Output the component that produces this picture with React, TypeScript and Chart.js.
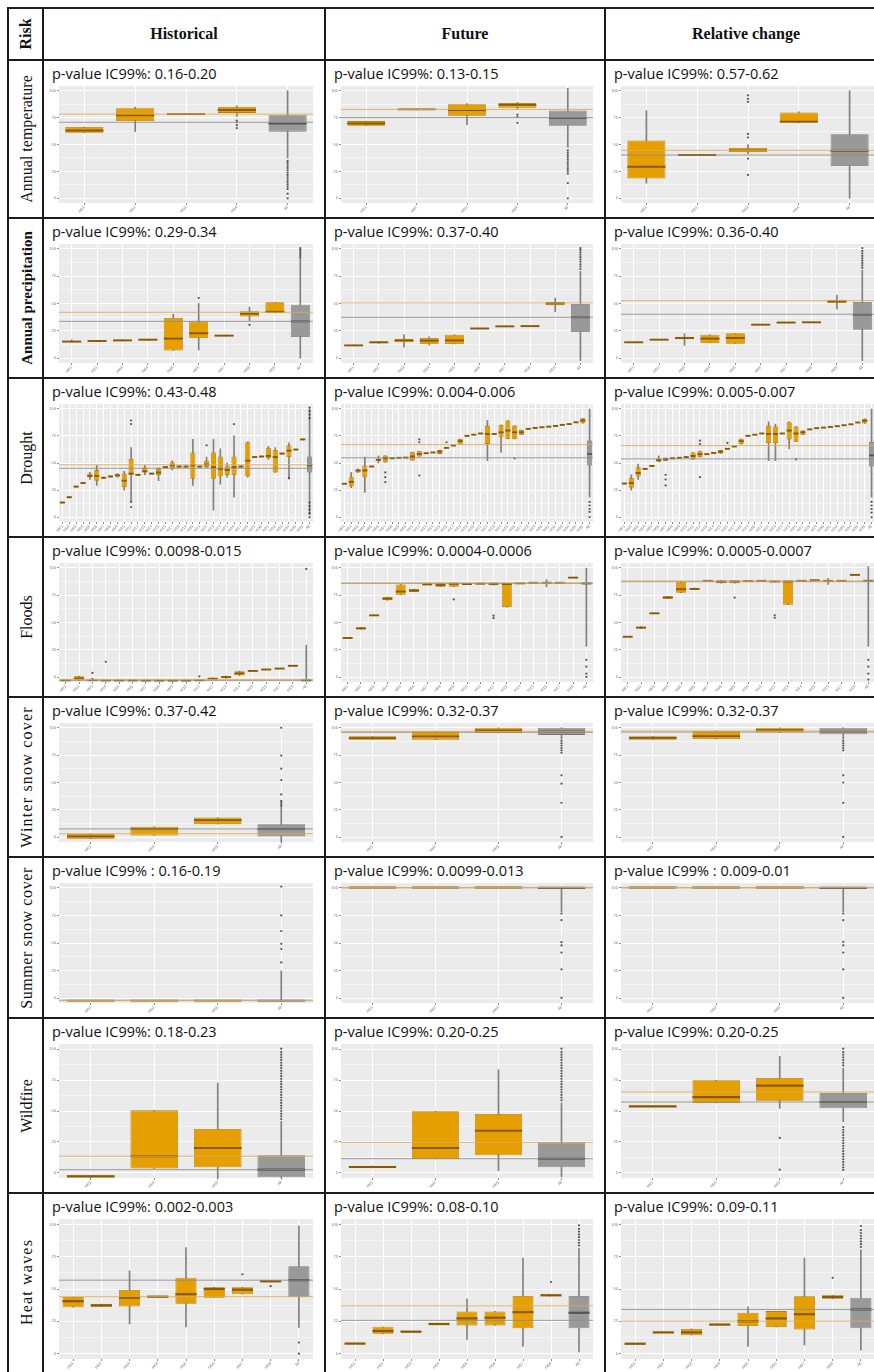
import React, { useEffect, useRef } from 'react';
import { Chart, registerables } from 'chart.js';

Chart.register(...registerables);

type Box = [number, number, number, number, number]; // [lower whisker, q1, median, q3, upper whisker]
type Outlier = [number, number]; // [category index, value]

// ---------- labels ----------
const RISKS = ['Annual temperature', 'Annual precipitation', 'Drought', 'Floods', 'Winter snow cover', 'Summer snow cover', 'Wildfire', 'Heat waves'];
const PERIODS = ['Historical', 'Future', 'Relative change'];
const MODEL_CODES = ['m01', 'm02', 'm03', 'm04', 'm05', 'm06', 'm07', 'm08', 'm09', 'm10', 'm11', 'm12', 'm13', 'm14', 'm15', 'm16', 'm17', 'm18', 'm19', 'm20', 'm21', 'm22', 'm23', 'm24', 'm25', 'm26', 'm27', 'm28', 'm29', 'm30', 'm31', 'm32', 'm33', 'm34', 'm35', 'm36'];
const ALL_LABEL = 'All';
const Y_MAJOR = [4, 27, 50, 73, 96];
const Y_MINOR = [15.5, 38.5, 61.5, 84.5];
const Y_TICK_LABELS = ['0', '25', '50', '75', '100'];

// ---------- Annual temperature ----------
const tempHistP = 'p-value IC99%: 0.16-0.20';
const tempHistBoxes: Box[] = [[60, 60, 62, 65, 65], [61, 70, 75, 81, 82], [75.5, 75.5, 76, 76.5, 76.5], [74, 77, 79.5, 82, 83], [38.5, 61, 68, 75.5, 96]];
const tempHistOutliers: Outlier[] = [[3, 70.5], [3, 69], [3, 66.5], [3, 64], [4, 36], [4, 34], [4, 32], [4, 30], [4, 28], [4, 26], [4, 24], [4, 22], [4, 20], [4, 18], [4, 16], [4, 14], [4, 12], [4, 8], [4, 4]];
const tempHistRefs = [76, 69];

const tempFutP = 'p-value IC99%: 0.13-0.15';
const tempFutBoxes: Box[] = [[66, 66, 68, 70, 70], [79.5, 79.5, 80, 80.5, 80.5], [67, 74.5, 79.5, 84.5, 85], [80, 81.5, 84, 85.5, 86], [47.5, 66, 72.5, 79, 98]];
const tempFutOutliers: Outlier[] = [[3, 75.5], [3, 73.5], [3, 68.5], [4, 45], [4, 43], [4, 41], [4, 39], [4, 37], [4, 35], [4, 33], [4, 31], [4, 29], [4, 27], [4, 25], [4, 17], [4, 4]];
const tempFutRefs = [80, 73];

const tempRelP = 'p-value IC99%: 0.57-0.62';
const tempRelBoxes: Box[] = [[17, 21, 31, 53.5, 79], [40.5, 40.5, 41, 41.5, 41.5], [42, 43.3, 45, 47, 50], [68.5, 68.5, 69.5, 77.4, 78], [4, 31.6, 44.7, 58.7, 96]];
const tempRelOutliers: Outlier[] = [[2, 92], [2, 89], [2, 86.5], [2, 59], [2, 56], [2, 38], [2, 24]];
const tempRelRefs = [45, 41];

// ---------- Annual precipitation ----------
const precHistP = 'p-value IC99%: 0.29-0.34';
const precHistBoxes: Box[] = [[17.5, 17.5, 18, 18.5, 19.5], [18, 18, 18.5, 19, 19], [18.5, 18.5, 19, 19.5, 19.5], [19, 19, 19.6, 20, 20.2], [10.4, 10.4, 20.5, 37.8, 41], [11, 21, 25, 35, 50], [22.5, 22.5, 23, 23.5, 23.5], [35.6, 39, 41.5, 43.4, 47], [42, 42, 43, 51, 51], [4, 21.8, 35, 49, 88]];
const precHistOutliers: Outlier[] = [[5, 54.6], [7, 32], [9, 89], [9, 90.5], [9, 92], [9, 93.5], [9, 95], [9, 96.5]];
const precHistRefs = [42.6, 35];

const precFutP = 'p-value IC99%: 0.37-0.40';
const precFutBoxes: Box[] = [[14.8, 14.8, 14.8, 15, 15], [16.5, 16.5, 17.4, 18, 18], [13.4, 17.4, 19, 20.4, 23.8], [15, 16, 18.8, 21, 22], [16, 16, 19, 23.8, 23.8], [29, 29, 29, 29.3, 29.3], [30.5, 30.5, 30.8, 31, 31], [31, 31, 31, 31.3, 31.3], [43, 48.5, 50, 51.3, 54.6], [2, 26, 38.4, 49.6, 77]];
const precFutOutliers: Outlier[] = [[9, 79], [9, 81], [9, 83], [9, 85], [9, 87], [9, 89], [9, 91], [9, 93], [9, 95], [9, 96.6]];
const precFutRefs = [50.4, 38.4];

const precRelP = 'p-value IC99%: 0.36-0.40';
const precRelBoxes: Box[] = [[17.4, 17.4, 17.4, 17.6, 17.6], [19.4, 19.4, 19.6, 19.8, 19.8], [14.8, 20, 21, 22, 24.6], [16.8, 16.8, 20.5, 23.8, 23.8], [16.2, 16.2, 21, 25, 25], [32, 32, 32.2, 32.4, 32.4], [33.8, 33.8, 34, 34.2, 34.2], [34, 34, 34.2, 34.4, 34.4], [45.4, 50.4, 51.8, 53.2, 57], [2, 28, 40.6, 51.3, 78]];
const precRelOutliers: Outlier[] = [[9, 80], [9, 82], [9, 84], [9, 86], [9, 88], [9, 90], [9, 92], [9, 94], [9, 96.6]];
const precRelRefs = [52.4, 41];

// ---------- Drought ----------
const drouHistP = 'p-value IC99%: 0.43-0.48';
const drouHistBoxes: Box[] = [
  [16, 16, 16.5, 17, 17], [20.5, 20.5, 21, 21.5, 21.5], [29.5, 29.5, 30, 30.5, 30.5], [32.5, 32.5, 33, 33.5, 33.5],
  [36, 38, 39, 41, 42], [31, 35, 39, 44, 48], [37, 37, 37.5, 38, 38], [38, 38, 38.6, 39, 39],
  [38, 38.5, 39.5, 40.5, 41], [27, 29.6, 35, 41, 43], [18, 40, 41, 53.5, 63], [39.5, 39.5, 40, 40.5, 40.5],
  [40, 42, 43, 46.5, 48], [40.5, 40.5, 41, 41.5, 41.5], [35, 39.7, 42, 45, 46], [46, 46, 46.5, 47, 47],
  [44, 45.6, 48, 50.7, 52], [46.5, 46.5, 47, 47.5, 47.5], [46.5, 46.5, 47, 47.5, 47.5], [31, 36.6, 48, 59, 70],
  [46.5, 46.5, 47, 47.5, 47.5], [46, 46.5, 48.7, 52, 55], [10, 36.6, 46.5, 59, 70], [32, 38.6, 45, 55.5, 62],
  [38, 39.7, 44, 47.7, 50], [21, 39.7, 46.5, 55.5, 73], [46.5, 46.5, 47, 47.5, 47.5], [38, 38.6, 52, 67.6, 68],
  [54.5, 54.5, 55, 55.5, 55.5], [55, 55, 55.5, 56, 56], [53, 54, 56, 63, 64], [42, 42, 55, 61, 63],
  [57.5, 57.5, 58, 58.5, 58.5], [37, 55, 60.5, 65, 67], [61, 61, 61.4, 61.8, 61.8], [69.5, 69.5, 70, 70.5, 70.5],
  [6, 42, 48, 55.5, 96],
];
const drouHistOutliers: Outlier[] = [[10, 86], [10, 83], [10, 17], [10, 12.7], [21, 65], [25, 83], [33, 37], [36, 97], [36, 94], [36, 91], [36, 88], [36, 4], [36, 7.5], [36, 10.5], [36, 13.5], [36, 16.5]];
const drouHistRefs = [48.5, 45.5];

const drouFutP = 'p-value IC99%: 0.004-0.006';
const drouFutBoxes: Box[] = [
  [32.4, 32.4, 32.4, 32.8, 32.8], [29, 30, 34, 38.6, 42], [42, 42, 43.7, 44, 45], [25, 38, 43.7, 47.9, 55],
  [47, 47, 47, 47.5, 47.5], [50, 52, 52.7, 53, 56], [50.7, 50.7, 54, 56.3, 56.3], [54, 54, 54, 54.3, 54.3],
  [54.4, 54.4, 54.4, 54.6, 54.6], [54.6, 54.6, 54.6, 54.8, 54.8], [52.1, 52.1, 55.5, 59.2, 59.2], [55.5, 55.5, 57.7, 60, 60],
  [58.3, 58.3, 58.3, 58.5, 58.5], [58.9, 58.9, 58.9, 59.1, 59.1], [57.7, 57.7, 59.7, 61, 61], [62.8, 62.8, 62.8, 63, 63],
  [64.8, 64.8, 64.8, 65, 65], [65.6, 65.6, 68.5, 70.4, 70.4], [73, 73, 73, 73.2, 73.2], [74, 74, 74, 74.2, 74.2],
  [75, 75, 75, 75.2, 75.2], [52, 66.2, 74.6, 81.7, 86], [74.6, 74.6, 74.6, 74.8, 74.8], [59, 71.8, 76, 82.3, 82.3],
  [70.4, 70.4, 77.5, 86, 86], [70.4, 70.4, 76, 81.7, 81.7], [74, 74, 76, 78, 78], [78.9, 78.9, 78.9, 79.1, 79.1],
  [79.7, 79.7, 79.7, 79.9, 79.9], [80.3, 80.3, 80.3, 80.5, 80.5], [80.8, 80.8, 80.8, 81, 81], [81.4, 81.4, 81.4, 81.6, 81.6],
  [82.3, 82.3, 82.3, 82.5, 82.5], [83, 83, 83, 83.2, 83.2], [84.5, 84.5, 84.5, 84.7, 84.7], [83.7, 83.7, 86, 87.9, 87.9],
  [21, 47.9, 57.7, 69, 95.8],
];
const drouFutOutliers: Outlier[] = [[6, 42], [6, 38], [6, 33.8], [11, 70], [11, 67.6], [11, 39.4], [15, 67.6], [25, 54], [36, 17], [36, 14], [36, 11], [36, 8.5], [36, 4.2]];
const drouFutRefs = [65.6, 54.4];

const drouRelP = 'p-value IC99%: 0.005-0.007';
const drouRelBoxes: Box[] = [
  [32.4, 32.4, 32.6, 33, 33], [27, 29, 33, 37.5, 40], [36, 38.6, 41.5, 46.5, 49], [44.5, 44.5, 45, 45.3, 45.3],
  [47, 47, 47.5, 48, 48], [51, 51, 52.5, 53.5, 56], [52, 52, 53, 54.5, 54.5], [54, 54, 54, 54.3, 54.3],
  [54.4, 54.4, 54.4, 54.6, 54.6], [55, 55, 55, 55.2, 55.2], [53, 53, 56, 59, 59], [55, 55, 57.5, 60, 60],
  [57.5, 57.5, 57.5, 57.7, 57.7], [58.5, 58.5, 58.5, 58.7, 58.7], [58, 58, 59.5, 61, 61], [62, 62, 62, 62.2, 62.2],
  [64, 64, 64, 64.2, 64.2], [66, 66, 68.5, 70.5, 70.5], [73, 73, 73, 73.2, 73.2], [74, 74, 74, 74.2, 74.2],
  [75, 75, 75, 75.2, 75.2], [52, 67, 74.6, 81.7, 85], [52, 67, 74.6, 81, 83], [75, 75, 75, 75.2, 75.2],
  [62, 70, 77.5, 84.5, 85], [68, 68, 75, 81, 81], [74, 74, 76, 77.5, 77.5], [78.5, 78.5, 78.5, 78.7, 78.7],
  [79.5, 79.5, 79.5, 79.7, 79.7], [80, 80, 80, 80.2, 80.2], [80.6, 80.6, 80.6, 80.8, 80.8], [81.2, 81.2, 81.2, 81.4, 81.4],
  [82, 82, 82, 82.2, 82.2], [82.8, 82.8, 82.8, 83, 83], [84.3, 84.3, 84.3, 84.5, 84.5], [83.5, 83.5, 85.8, 87.6, 87.6],
  [21, 47, 56.5, 68, 95.8],
];
const drouRelOutliers: Outlier[] = [[6, 40], [6, 36], [6, 31], [11, 69], [11, 66], [11, 38], [15, 67], [25, 53], [36, 17], [36, 14], [36, 11], [36, 8], [36, 4]];
const drouRelRefs = [64.8, 53.5];

// ---------- Floods ----------
const floHistP = 'p-value IC99%: 0.0098-0.015';
const floHistBoxes: Box[] = [
  [1.4, 1.4, 1.4, 1.6, 1.6], [1.2, 1.4, 3, 4.8, 5], [1.5, 1.5, 1.5, 1.7, 1.7], [1.3, 1.3, 1.3, 1.5, 1.5],
  [1.3, 1.3, 1.3, 1.5, 1.5], [1.3, 1.3, 1.3, 1.5, 1.5], [1.2, 1.2, 1.2, 1.4, 1.4], [1.2, 1.2, 1.2, 1.4, 1.4],
  [1.2, 1.2, 1.2, 1.4, 1.4], [1.2, 1.2, 1.2, 1.4, 1.4], [1.4, 1.4, 1.5, 1.7, 1.7], [1.6, 2, 2.8, 3.4, 3.5],
  [3, 4, 4.2, 4.5, 5], [5.2, 5.7, 7.2, 9, 9.3], [9.2, 9.2, 9.3, 9.5, 9.5], [10.4, 10.4, 10.5, 10.7, 10.7],
  [11.2, 11.2, 11.3, 11.5, 11.5], [13.5, 13.5, 13.6, 13.8, 13.8], [1.2, 1.2, 1.4, 2.5, 31],
];
const floHistOutliers: Outlier[] = [[2, 7.6], [2, 2.6], [3, 17], [10, 4.8], [18, 95]];
const floHistRefs = [2.2, 1.4];

const floFutP = 'p-value IC99%: 0.0004-0.0006';
const floFutBoxes: Box[] = [
  [37, 37, 37, 37.3, 37.3], [44.5, 44.5, 45, 46, 46], [56, 56, 56, 56.3, 56.3], [68.6, 68.6, 70, 71.4, 71.4],
  [73.4, 73.4, 76, 82, 82], [75.7, 75.7, 77, 78, 78], [82, 82, 82, 82.3, 82.3], [80, 80, 81.5, 83, 83],
  [80, 80, 82.5, 83.4, 83.4], [82.3, 82.3, 82.3, 82.5, 82.5], [82.6, 82.6, 82.6, 82.8, 82.8], [81.4, 81.4, 82.5, 83.4, 83.4],
  [62.9, 62.9, 82.3, 82.9, 82.9], [82.9, 82.9, 82.9, 83.1, 83.1], [83.4, 83.4, 83.4, 83.6, 83.6], [80, 83, 83.4, 84, 86],
  [83.4, 83.4, 83.4, 83.6, 83.6], [87.7, 87.7, 87.7, 87.9, 87.9], [30, 82, 82.9, 84.3, 95.7],
];
const floFutOutliers: Outlier[] = [[8, 69.4], [11, 55.7], [11, 53.7], [18, 18.6], [18, 12.9], [18, 7], [18, 4.3]];
const floFutRefs = [83.4, 82.9];

const floRelP = 'p-value IC99%: 0.0005-0.0007';
const floRelBoxes: Box[] = [
  [38, 38, 38, 38.3, 38.3], [45, 45, 45.7, 46.5, 46.5], [57.7, 57.7, 57.7, 58, 58], [70, 70, 71, 72, 72],
  [74.9, 74.9, 78, 84.3, 84.3], [77.5, 77.5, 78.2, 79, 79], [85, 85, 85, 85.2, 85.2], [83, 83, 84.3, 85.5, 85.5],
  [83, 83, 84.5, 85.2, 85.2], [84.8, 84.8, 84.8, 85, 85], [85, 85, 85, 85.2, 85.2], [84, 84, 84.5, 85, 85],
  [65, 65, 84.5, 85, 85], [85, 85, 85, 85.2, 85.2], [85.5, 85.5, 85.5, 85.7, 85.7], [82, 84.5, 85, 85.7, 87],
  [85, 85, 85, 85.2, 85.2], [90, 90, 90, 90.2, 90.2], [30, 84.3, 85, 86, 97],
];
const floRelOutliers: Outlier[] = [[8, 70.9], [11, 56], [11, 54], [18, 18.6], [18, 12.9], [18, 7], [18, 2]];
const floRelRefs = [84.9, 84.3];

// ---------- Winter snow cover ----------
const winHistP = 'p-value IC99%: 0.37-0.42';
const winHistBoxes: Box[] = [[2.7, 2.7, 4.7, 6.8, 6.8], [5.5, 5.5, 11, 12.9, 12.9], [15, 15, 18.4, 20.5, 20.5], [0, 4.7, 11, 15, 28.8]];
const winHistOutliers: Outlier[] = [[3, 30], [3, 31.5], [3, 33], [3, 34.5], [3, 40], [3, 52], [3, 61.6], [3, 72.6], [3, 96]];
const winHistRefs = [7, 11];

const winFutP = 'p-value IC99%: 0.32-0.37';
const winFutBoxes: Box[] = [[86, 86, 87.3, 88.8, 88.8], [86, 86, 88.8, 93, 93], [91.6, 91.6, 93.7, 96, 96], [86.5, 90, 92.8, 96, 96]];
const winFutOutliers: Outlier[] = [[3, 85], [3, 83], [3, 81], [3, 79], [3, 77], [3, 75], [3, 56], [3, 49], [3, 33], [3, 4.3]];
const winFutRefs = [93, 92.2];

const winRelP = 'p-value IC99%: 0.32-0.37';
const winRelBoxes: Box[] = [[86, 86, 87.6, 88.6, 88.6], [86.5, 86.5, 89, 93.5, 93.5], [92, 92, 94, 96, 96], [86.5, 90.5, 93, 96, 96]];
const winRelOutliers: Outlier[] = [[3, 85], [3, 83], [3, 81], [3, 79], [3, 77], [3, 56], [3, 50], [3, 33], [3, 4.3]];
const winRelRefs = [93.3, 92.4];

// ---------- Summer snow cover ----------
const sumHistP = 'p-value IC99% : 0.16-0.19';
const sumHistBoxes: Box[] = [[1.8, 1.8, 2, 2.2, 2.2], [1.8, 1.8, 2, 2.2, 2.2], [1.8, 1.8, 2, 2.2, 2.2], [1.4, 1.4, 2, 2.5, 26.8]];
const sumHistOutliers: Outlier[] = [[3, 33.8], [3, 45], [3, 49.3], [3, 60], [3, 73], [3, 97]];
const sumHistRefs = [2, 2.3];

const sumFutP = 'p-value IC99%: 0.0099-0.013';
const sumFutBoxes: Box[] = [[96, 96, 96.3, 96.5, 96.5], [96, 96, 96.3, 96.5, 96.5], [96, 96, 96.3, 96.5, 96.5], [76, 95, 96, 96.6, 96.6]];
const sumFutOutliers: Outlier[] = [[3, 74.6], [3, 69], [3, 50.7], [3, 48], [3, 42], [3, 28], [3, 4.2]];
const sumFutRefs = [96.3, 96];

const sumRelP = 'p-value IC99% : 0.009-0.01';
const sumRelBoxes: Box[] = [[96, 96, 96.3, 96.5, 96.5], [96, 96, 96.3, 96.5, 96.5], [96, 96, 96.3, 96.5, 96.5], [76, 95, 96, 96.6, 96.6]];
const sumRelOutliers: Outlier[] = [[3, 74.6], [3, 69], [3, 51], [3, 48], [3, 42], [3, 28], [3, 4.2]];
const sumRelRefs = [96.3, 96];

// ---------- Wildfire ----------
const wilHistP = 'p-value IC99%: 0.18-0.23';
const wilHistBoxes: Box[] = [[0.5, 0.5, 1.2, 2, 2], [7, 7, 16.2, 50.5, 50.5], [0, 8, 22.4, 36.6, 70.9], [0, 0.5, 6.2, 17, 42.3]];
const wilHistOutliers: Outlier[] = [[3, 44], [3, 46], [3, 48], [3, 50], [3, 52], [3, 54], [3, 56], [3, 58], [3, 60], [3, 62], [3, 64], [3, 66], [3, 68], [3, 70], [3, 72], [3, 74], [3, 76], [3, 78], [3, 80], [3, 82], [3, 84], [3, 86], [3, 88], [3, 90], [3, 92], [3, 94], [3, 96.5]];
const wilHistRefs = [16.2, 6.2];

const wilFutP = 'p-value IC99%: 0.20-0.25';
const wilFutBoxes: Box[] = [[7.5, 7.5, 8.2, 9, 9], [14.2, 14.2, 22.4, 49.8, 49.8], [5.5, 17, 35.3, 47.8, 80.8], [1, 8, 14.4, 26.6, 56]];
const wilFutOutliers: Outlier[] = [[3, 58], [3, 60], [3, 62], [3, 64], [3, 66], [3, 68], [3, 70], [3, 72], [3, 74], [3, 76], [3, 78], [3, 80], [3, 82], [3, 84], [3, 86], [3, 88], [3, 90], [3, 92], [3, 94], [3, 96.5]];
const wilFutRefs = [26.6, 14.4];

const wilRelP = 'p-value IC99%: 0.20-0.25';
const wilRelBoxes: Box[] = [[53, 53, 53.5, 54, 54], [56, 56, 60.4, 72.9, 72.9], [52, 57.7, 68.9, 74.6, 90.8], [42, 52, 56.7, 63.4, 82]];
const wilRelOutliers: Outlier[] = [[2, 29.9], [2, 6.2], [3, 84], [3, 86], [3, 88], [3, 90], [3, 92], [3, 94], [3, 96.5], [3, 38], [3, 36], [3, 34], [3, 32], [3, 30], [3, 28], [3, 26], [3, 24], [3, 22], [3, 20], [3, 18], [3, 16], [3, 14], [3, 12], [3, 10], [3, 8], [3, 6]];
const wilRelRefs = [64.2, 56.7];

// ---------- Heat waves ----------
const heaHistP = 'p-value IC99%: 0.002-0.003';
const heaHistBoxes: Box[] = [[37, 37, 41.3, 44.3, 44.3], [37.3, 37.3, 38.3, 39.3, 39.3], [25, 37.5, 43.8, 49.3, 63], [44, 44, 44.5, 45, 45], [23, 39.5, 46.3, 58, 79.5], [43.8, 43.8, 50, 51.3, 51.3], [46.3, 46.3, 49.5, 51.3, 51.3], [55.5, 55.5, 55.5, 55.8, 55.8], [22.5, 44.3, 56.3, 66.3, 95]];
const heaHistOutliers: Outlier[] = [[6, 60.5], [7, 52], [8, 11.8], [8, 3.8]];
const heaHistRefs = [44.5, 56.3];

const heaFutP = 'p-value IC99%: 0.08-0.10';
const heaFutBoxes: Box[] = [[11, 11, 11, 11.3, 11.3], [18, 18, 20, 23, 23], [19.5, 19.5, 19.5, 19.8, 19.8], [25, 25, 25, 25.3, 25.3], [14, 24, 29, 34, 43], [24, 24, 29.5, 34, 34], [9, 22, 33.5, 45, 72], [45, 45, 45.5, 46, 46], [5, 22, 33, 45, 79]];
const heaFutOutliers: Outlier[] = [[7, 55], [8, 81], [8, 83], [8, 85], [8, 87], [8, 89], [8, 91], [8, 93], [8, 95.5]];
const heaFutRefs = [38, 27.6];

const heaRelP = 'p-value IC99%: 0.09-0.11';
const heaRelBoxes: Box[] = [[10.9, 10.9, 10.9, 11.2, 11.2], [19, 19, 19, 19.3, 19.3], [17, 17, 19, 21.5, 21.5], [24.6, 24.6, 24.6, 24.9, 24.9], [8.9, 23.5, 27, 33, 37.2], [22.8, 22.8, 29, 34.2, 34.2], [10, 21, 32, 44.8, 72], [43, 43, 44.3, 45.5, 45.5], [6.3, 22, 35.4, 43.8, 78]];
const heaRelOutliers: Outlier[] = [[7, 58], [8, 80], [8, 82], [8, 84], [8, 86], [8, 88], [8, 90], [8, 92], [8, 95]];
const heaRelRefs = [27, 35.4];

// ---------- styles ----------
const PANEL_BG = '#EBEBEB';
const ORANGE_FILL = '#E69F00';
const ORANGE_EDGE = '#B98000';
const ORANGE_MED = '#8A5A00';
const GREY_FILL = '#999999';
const GREY_EDGE = '#7A7A7A';
const GREY_MED = '#555555';
const WHISKER = '#808080';
const OUTLIER = 'rgba(55,55,55,0.85)';
const REF_ORANGE = 'rgba(222,172,88,0.85)';
const REF_GREY = 'rgba(140,140,140,0.85)';
const MED_HALF = 0.8;
const SERIF = '"Liberation Serif", "Times New Roman", serif';
const SANS = '"Open Sans", "Noto Sans", sans-serif';

const COL_X = [8, 43, 325, 605, 887];
const ROW_Y = [8, 60, 218, 378, 537, 697, 857, 1018, 1193, 1374];

type Spec = { p: string; boxes: Box[]; outliers: Outlier[]; refs: number[] };

const GRID: Spec[][] = [
  [{ p: tempHistP, boxes: tempHistBoxes, outliers: tempHistOutliers, refs: tempHistRefs }, { p: tempFutP, boxes: tempFutBoxes, outliers: tempFutOutliers, refs: tempFutRefs }, { p: tempRelP, boxes: tempRelBoxes, outliers: tempRelOutliers, refs: tempRelRefs }],
  [{ p: precHistP, boxes: precHistBoxes, outliers: precHistOutliers, refs: precHistRefs }, { p: precFutP, boxes: precFutBoxes, outliers: precFutOutliers, refs: precFutRefs }, { p: precRelP, boxes: precRelBoxes, outliers: precRelOutliers, refs: precRelRefs }],
  [{ p: drouHistP, boxes: drouHistBoxes, outliers: drouHistOutliers, refs: drouHistRefs }, { p: drouFutP, boxes: drouFutBoxes, outliers: drouFutOutliers, refs: drouFutRefs }, { p: drouRelP, boxes: drouRelBoxes, outliers: drouRelOutliers, refs: drouRelRefs }],
  [{ p: floHistP, boxes: floHistBoxes, outliers: floHistOutliers, refs: floHistRefs }, { p: floFutP, boxes: floFutBoxes, outliers: floFutOutliers, refs: floFutRefs }, { p: floRelP, boxes: floRelBoxes, outliers: floRelOutliers, refs: floRelRefs }],
  [{ p: winHistP, boxes: winHistBoxes, outliers: winHistOutliers, refs: winHistRefs }, { p: winFutP, boxes: winFutBoxes, outliers: winFutOutliers, refs: winFutRefs }, { p: winRelP, boxes: winRelBoxes, outliers: winRelOutliers, refs: winRelRefs }],
  [{ p: sumHistP, boxes: sumHistBoxes, outliers: sumHistOutliers, refs: sumHistRefs }, { p: sumFutP, boxes: sumFutBoxes, outliers: sumFutOutliers, refs: sumFutRefs }, { p: sumRelP, boxes: sumRelBoxes, outliers: sumRelOutliers, refs: sumRelRefs }],
  [{ p: wilHistP, boxes: wilHistBoxes, outliers: wilHistOutliers, refs: wilHistRefs }, { p: wilFutP, boxes: wilFutBoxes, outliers: wilFutOutliers, refs: wilFutRefs }, { p: wilRelP, boxes: wilRelBoxes, outliers: wilRelOutliers, refs: wilRelRefs }],
  [{ p: heaHistP, boxes: heaHistBoxes, outliers: heaHistOutliers, refs: heaHistRefs }, { p: heaFutP, boxes: heaFutBoxes, outliers: heaFutOutliers, refs: heaFutRefs }, { p: heaRelP, boxes: heaRelBoxes, outliers: heaRelOutliers, refs: heaRelRefs }],
];

const panelBackground = {
  id: 'panelBackground',
  beforeDraw(chart: any) {
    const { ctx, chartArea: a } = chart;
    if (!a) return;
    ctx.save();
    ctx.fillStyle = PANEL_BG;
    ctx.fillRect(a.left, a.top, a.right - a.left, a.bottom - a.top);
    ctx.restore();
  },
};

function buildConfig(spec: Spec): any {
  const { boxes, outliers, refs } = spec;
  const n = boxes.length;
  const labels = boxes.map((_, i) => (i === n - 1 ? ALL_LABEL : MODEL_CODES[i]));
  const isAll = (i: number) => i === n - 1;
  const fills = boxes.map((_, i) => (isAll(i) ? GREY_FILL : ORANGE_FILL));
  const edges = boxes.map((_, i) => (isAll(i) ? GREY_EDGE : ORANGE_EDGE));
  const meds = boxes.map((_, i) => (isAll(i) ? GREY_MED : ORANGE_MED));
  const refLine = (v: number, color: string, label: string) => ({
    type: 'line',
    label,
    xAxisID: 'xr',
    data: [{ x: 0, y: v }, { x: 1, y: v }],
    borderColor: color,
    borderWidth: 1,
    pointRadius: 0,
    order: 0,
  });
  return {
    type: 'bar',
    data: {
      labels,
      datasets: [
        refLine(refs[0], REF_ORANGE, 'mean (models)'),
        refLine(refs[1], REF_GREY, 'mean (all)'),
        {
          type: 'line',
          label: 'outliers',
          data: outliers.map(([c, v]) => ({ x: labels[c], y: v })),
          showLine: false,
          pointRadius: 1.1,
          pointBackgroundColor: OUTLIER,
          pointBorderWidth: 0,
          order: 1,
        },
        {
          type: 'bar',
          label: 'median',
          data: boxes.map((b) => [b[2] - MED_HALF, b[2] + MED_HALF]),
          backgroundColor: meds,
          grouped: false,
          barPercentage: 0.75,
          categoryPercentage: 1,
          order: 2,
        },
        {
          type: 'bar',
          label: 'box',
          data: boxes.map((b) => [b[1], b[3]]),
          backgroundColor: fills,
          borderColor: edges,
          borderWidth: 0.8,
          borderSkipped: false,
          grouped: false,
          barPercentage: 0.75,
          categoryPercentage: 1,
          order: 3,
        },
        {
          type: 'bar',
          label: 'whisker',
          data: boxes.map((b) => [b[0], b[4]]),
          backgroundColor: WHISKER,
          barThickness: 1,
          grouped: false,
          order: 4,
        },
      ],
    },
    options: {
      responsive: false,
      animation: false,
      events: [],
      layout: { padding: { left: 4, right: 9, top: 4, bottom: 3 } },
      plugins: { legend: { display: false }, tooltip: { enabled: false } },
      scales: {
        x: {
          type: 'category',
          offset: true,
          afterFit: (s: any) => { s.height = 10; },
          grid: { color: '#ffffff', lineWidth: 1, offset: false, tickColor: '#8a8a8a', tickLength: 2 },
          border: { display: false },
          ticks: { font: { size: 4 }, color: '#777', maxRotation: 45, minRotation: 45, autoSkip: false, padding: 0 },
        },
        xr: { type: 'linear', display: false, offset: false, min: 0, max: 1, grid: { offset: false } },
        y: {
          min: 0,
          max: 100,
          afterBuildTicks: (s: any) => {
            s.ticks = [...Y_MAJOR, ...Y_MINOR].sort((a, b) => a - b).map((v) => ({ value: v }));
          },
          afterFit: (s: any) => { s.width = 9; },
          grid: {
            color: '#ffffff',
            lineWidth: (c: any) => (c.tick && Y_MAJOR.includes(c.tick.value) ? 1 : 0.5),
            tickColor: (c: any) => (c.tick && Y_MAJOR.includes(c.tick.value) ? '#8a8a8a' : 'rgba(0,0,0,0)'),
            tickLength: 2,
          },
          border: { display: false },
          ticks: {
            font: { size: 4 },
            color: '#777',
            padding: 1,
            callback: (v: number) => {
              const i = Y_MAJOR.indexOf(v);
              return i >= 0 ? Y_TICK_LABELS[i] : '';
            },
          },
        },
      },
    },
    plugins: [panelBackground],
  };
}

function Panel({ spec, left, top, width, height }: { spec: Spec; left: number; top: number; width: number; height: number }) {
  const ref = useRef<HTMLCanvasElement>(null);
  useEffect(() => {
    if (!ref.current) return;
    const chart = new Chart(ref.current, buildConfig(spec));
    return () => chart.destroy();
  }, [spec]);
  return (
    <div style={{ position: 'absolute', left, top, width, height }}>
      <canvas ref={ref} width={width} height={height} style={{ width, height, display: 'block' }} />
    </div>
  );
}

const LABEL_STYLES: Record<string, React.CSSProperties> = {
  'Annual precipitation': { fontWeight: 700, fontSize: 15 },
  'Winter snow cover': { letterSpacing: 1.2 },
  'Summer snow cover': { letterSpacing: 0.6 },
  'Heat waves': { letterSpacing: 1.2 },
};

export default function App() {
  const lines: React.ReactNode[] = [];
  COL_X.forEach((x, i) =>
    lines.push(<div key={'v' + i} style={{ position: 'absolute', left: x - 1, top: ROW_Y[0] - 1, width: 2, height: ROW_Y[9] - ROW_Y[0] + 2, background: '#1c1c1c' }} />)
  );
  ROW_Y.forEach((y, i) =>
    lines.push(<div key={'h' + i} style={{ position: 'absolute', left: COL_X[0] - 1, top: y - 1, width: COL_X[4] - COL_X[0] + 2, height: 2, background: '#1c1c1c' }} />)
  );

  const rotated = (text: string, cx: number, cy: number, extra: React.CSSProperties, key: string) => (
    <div
      key={key}
      style={{
        position: 'absolute',
        left: cx,
        top: cy,
        transform: 'translate(-50%, -50%) rotate(-90deg)',
        whiteSpace: 'nowrap',
        fontFamily: SERIF,
        fontSize: 16,
        lineHeight: '18px',
        color: '#111',
        ...extra,
      }}
    >
      {text}
    </div>
  );

  return (
    <div style={{ position: 'fixed', left: 0, top: 0, width: 874, height: 1372, overflow: 'hidden', background: '#ffffff' }}>
      {rotated('Risk', (COL_X[0] + COL_X[1]) / 2, (ROW_Y[0] + ROW_Y[1]) / 2, { fontWeight: 700 }, 'risk')}
      {PERIODS.map((p, c) => (
        <div
          key={p}
          style={{
            position: 'absolute',
            left: COL_X[c + 1],
            width: COL_X[c + 2] - COL_X[c + 1],
            top: ROW_Y[0],
            height: ROW_Y[1] - ROW_Y[0],
            display: 'flex',
            alignItems: 'center',
            justifyContent: 'center',
            fontFamily: SERIF,
            fontWeight: 700,
            fontSize: 16,
            color: '#111',
          }}
        >
          {p}
        </div>
      ))}
      {RISKS.map((risk, r) => {
        const top = ROW_Y[r + 1];
        const bottom = ROW_Y[r + 2];
        const cy = r === RISKS.length - 1 ? 1282 : (top + bottom) / 2;
        return (
          <React.Fragment key={risk}>
            {rotated(risk, (COL_X[0] + COL_X[1]) / 2 + 1, cy, LABEL_STYLES[risk] || {}, 'lab' + r)}
            {GRID[r].map((spec, c) => (
              <React.Fragment key={c}>
                <div
                  style={{
                    position: 'absolute',
                    left: COL_X[c + 1] + 9,
                    top: top + 5,
                    fontFamily: SANS,
                    fontSize: 14.5,
                    lineHeight: '17px',
                    color: '#111',
                    whiteSpace: 'nowrap',
                  }}
                >
                  {spec.p}
                </div>
                <Panel spec={spec} left={COL_X[c + 1] + 3} top={top + 22} width={COL_X[c + 2] - COL_X[c + 1] - 6} height={bottom - top - 24} />
              </React.Fragment>
            ))}
          </React.Fragment>
        );
      })}
      {lines}
    </div>
  );
}
